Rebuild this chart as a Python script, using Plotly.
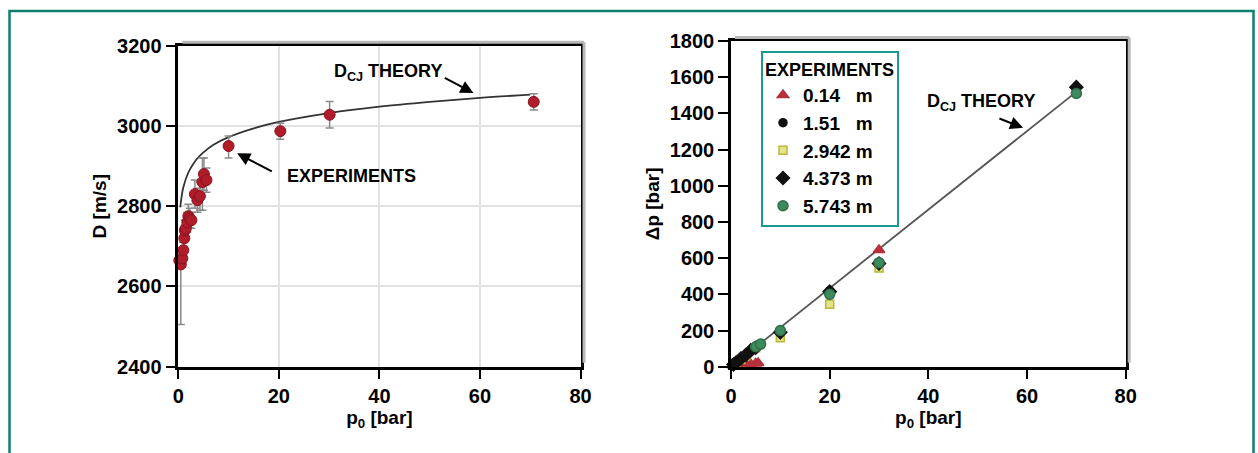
import plotly.graph_objects as go

# ---------------- data: left panel ----------------
exp_p0 = [0.2, 0.5, 0.8, 1.0, 1.2, 1.3, 1.5, 1.8, 2.0, 2.3, 2.6, 3.3, 3.8, 4.3, 4.8, 5.1, 5.6, 10.0, 20.3, 30.1, 70.7]
exp_D = [2665, 2655, 2670, 2690, 2720, 2740, 2745, 2760, 2775, 2770, 2765, 2830, 2815, 2825, 2860, 2880, 2865, 2950, 2987, 3028, 3060]
exp_err_plus = [10, 20, 15, 20, 20, 25, 20, 25, 30, 25, 20, 35, 30, 35, 60, 40, 30, 25, 20, 33, 20]
exp_err_minus = [10, 150, 15, 20, 20, 25, 20, 25, 30, 25, 20, 35, 30, 35, 70, 40, 30, 30, 20, 33, 20]

theory_p0 = [0.4, 0.5, 1, 2, 3, 4, 5, 7, 10, 15, 20, 30, 40, 50, 60, 70]
theory_D = [2797, 2809, 2847, 2884, 2906, 2922, 2934, 2953, 2972, 2994, 3010, 3032, 3048, 3060, 3070, 3078]

# ---------------- data: right panel ----------------
s014_p0 = [0.5, 1, 2, 3, 4, 5, 5.5, 30]
s014_dp = [5, 8, 10, 12, 15, 18, 20, 645]
s151_p0 = [0.3, 0.6, 1, 1.5, 2, 2.5, 3, 4, 10, 20, 30, 70]
s151_dp = [8, 15, 22, 32, 42, 52, 62, 85, 195, 420, 565, 1535]
s2942_p0 = [0.5, 1, 2, 3, 5, 10, 20, 30, 70]
s2942_dp = [10, 20, 40, 60, 105, 160, 345, 545, 1520]
s4373_p0 = [0.5, 1, 2, 3, 4, 5, 10, 20, 30, 70]
s4373_dp = [12, 22, 45, 65, 90, 105, 190, 415, 570, 1545]
s5743_p0 = [5, 6, 10, 20, 30, 70]
s5743_dp = [110, 125, 200, 400, 575, 1510]

line_p0 = [0, 70.5]
line_dp = [0, 1530]

x_ticks = [0, 20, 40, 60, 80]
left_y_ticks = [2400, 2600, 2800, 3000, 3200]
right_y_ticks = [0, 200, 400, 600, 800, 1000, 1200, 1400, 1600, 1800]

FONT = "Liberation Sans, Arial, sans-serif"
TEAL = "#0f7f6c"
W, H = 1258, 453

fig = go.Figure()

# left panel: theory curve + experiments with error bars
fig.add_trace(go.Scatter(
    x=theory_p0, y=theory_D, mode="lines",
    line=dict(color="#333333", width=1.8, shape="spline"),
    xaxis="x", yaxis="y", showlegend=False, hoverinfo="skip"))
fig.add_trace(go.Scatter(
    x=exp_p0, y=exp_D, mode="markers",
    marker=dict(color="#b01c2a", size=11, line=dict(color="#8a1420", width=1)),
    error_y=dict(type="data", symmetric=False, array=exp_err_plus, arrayminus=exp_err_minus,
                 color="#8a8a8a", thickness=1.5, width=4),
    cliponaxis=False, xaxis="x", yaxis="y", showlegend=False))

# right panel: theory line + five sensor positions
fig.add_trace(go.Scatter(
    x=line_p0, y=line_dp, mode="lines", line=dict(color="#555555", width=1.8),
    xaxis="x2", yaxis="y2", showlegend=False, hoverinfo="skip"))

series = [
    ("0.14\u00a0\u00a0\u00a0m", s014_p0, s014_dp, "triangle-up", "#b5303c", "#b5303c", 10),
    ("1.51\u00a0\u00a0\u00a0m", s151_p0, s151_dp, "circle", "#111111", "#111111", 8),
    ("2.942 m", s2942_p0, s2942_dp, "square", "#e3e38a", "#b8b83a", 8),
    ("4.373 m", s4373_p0, s4373_dp, "diamond", "#111111", "#111111", 10),
    ("5.743 m", s5743_p0, s5743_dp, "circle", "#3d8a5c", "#2f7049", 10),
]
for name, xs, ys, sym, fill, edge, sz in series:
    fig.add_trace(go.Scatter(
        x=xs, y=ys, mode="markers", name=name,
        marker=dict(symbol=sym, color=fill, size=sz, line=dict(color=edge, width=1.5)),
        cliponaxis=False, xaxis="x2", yaxis="y2"))

axis_common = dict(
    showline=True, linecolor="black", linewidth=2.5, mirror=True,
    ticks="outside", ticklen=10, tickwidth=2, tickcolor="black",
    tickfont=dict(family=FONT, size=20, color="black", weight="bold"),
    zeroline=False, automargin=False,
)
title_font = dict(family=FONT, size=19, weight="bold", color="black")

L = dict(x0=178.3, x1=580.5, y0=366.7, y1=45.7)
R = dict(x0=731.0, x1=1125.7, y0=366.7, y1=41.0)

fig.update_layout(
    width=W, height=H,
    margin=dict(l=0, r=0, t=0, b=0, pad=0, autoexpand=False),
    paper_bgcolor="white", plot_bgcolor="white",
    font=dict(family=FONT, color="black"),
    xaxis=dict(domain=[L["x0"] / W, L["x1"] / W], range=[0, 80], tickvals=x_ticks, anchor="y",
               showgrid=True, gridcolor="#e2e2e2", gridwidth=1.5,
               title=dict(text="p<sub>0</sub> [bar]", font=title_font, standoff=4),
               **axis_common),
    yaxis=dict(domain=[1 - L["y0"] / H, 1 - L["y1"] / H], range=[2400, 3200], tickvals=left_y_ticks, anchor="x",
               showgrid=True, gridcolor="#e2e2e2", gridwidth=1.5,
               title=dict(text="D [m/s]", font=title_font, standoff=6),
               **axis_common),
    xaxis2=dict(domain=[R["x0"] / W, R["x1"] / W], range=[0, 80], tickvals=x_ticks, anchor="y2",
                showgrid=False,
                title=dict(text="p<sub>0</sub> [bar]", font=title_font, standoff=4),
                **axis_common),
    yaxis2=dict(domain=[1 - R["y0"] / H, 1 - R["y1"] / H], range=[0, 1800], tickvals=right_y_ticks, anchor="x2",
                showgrid=False,
                title=dict(text="\u0394p [bar]", font=title_font, standoff=6),
                **axis_common),
    legend=dict(
        x=761 / W, y=1 - 50.7 / H, xanchor="left", yanchor="top",
        bordercolor="#1a9a8a", borderwidth=2, bgcolor="white",
        title=dict(text="EXPERIMENTS", font=dict(family=FONT, size=18, weight="bold")),
        font=dict(family=FONT, size=19, weight="bold", color="black"),
        tracegroupgap=0, itemwidth=30,
    ),
    showlegend=True,
)

annot_font = dict(family=FONT, size=18, color="black", weight="bold")
fig.add_annotation(x=30.6, y=3132, xref="x", yref="y", text="D<sub>CJ</sub> THEORY",
                   showarrow=False, xanchor="left", yanchor="middle", font=annot_font)
fig.add_annotation(x=58.7, y=3082, ax=52.7, ay=3122, xref="x", yref="y", axref="x", ayref="y",
                   text="", showarrow=True, arrowhead=2, arrowsize=1.3, arrowwidth=2, arrowcolor="black")
fig.add_annotation(x=21.2, y=2875, xref="x", yref="y", text="EXPERIMENTS",
                   showarrow=False, xanchor="left", yanchor="middle", font=annot_font)
fig.add_annotation(x=11.7, y=2932, ax=18.9, ay=2885, xref="x", yref="y", axref="x", ayref="y",
                   text="", showarrow=True, arrowhead=2, arrowsize=1.3, arrowwidth=2, arrowcolor="black")

fig.add_annotation(x=39.3, y=1458, xref="x2", yref="y2", text="D<sub>CJ</sub> THEORY",
                   showarrow=False, xanchor="left", yanchor="middle", font=annot_font)
fig.add_annotation(x=59.2, y=1320, ax=54.1, ay=1375, xref="x2", yref="y2", axref="x2", ayref="y2",
                   text="", showarrow=True, arrowhead=2, arrowsize=1.3, arrowwidth=2, arrowcolor="black")

# soft grey shadow along the top and right edges of each plot frame
for P in (L, R):
    fig.add_shape(type="line", xref="paper", yref="paper",
                  x0=(P["x0"] + 4) / W, x1=(P["x1"] + 3.5) / W,
                  y0=1 - (P["y1"] - 3.5) / H, y1=1 - (P["y1"] - 3.5) / H,
                  line=dict(color="#b8b8b8", width=3))
    fig.add_shape(type="line", xref="paper", yref="paper",
                  x0=(P["x1"] + 3.5) / W, x1=(P["x1"] + 3.5) / W,
                  y0=1 - (P["y1"] - 3.5) / H, y1=1 - (P["y0"] - 4) / H,
                  line=dict(color="#b8b8b8", width=3))

# outer teal frame (open at the bottom edge of the picture)
fig.add_shape(type="rect", xref="paper", yref="paper",
              x0=9.5 / W, x1=1253.5 / W, y0=-0.05, y1=1 - 11 / H,
              line=dict(color=TEAL, width=2.5), fillcolor="rgba(0,0,0,0)", layer="below")

fig.write_html("out.html")
